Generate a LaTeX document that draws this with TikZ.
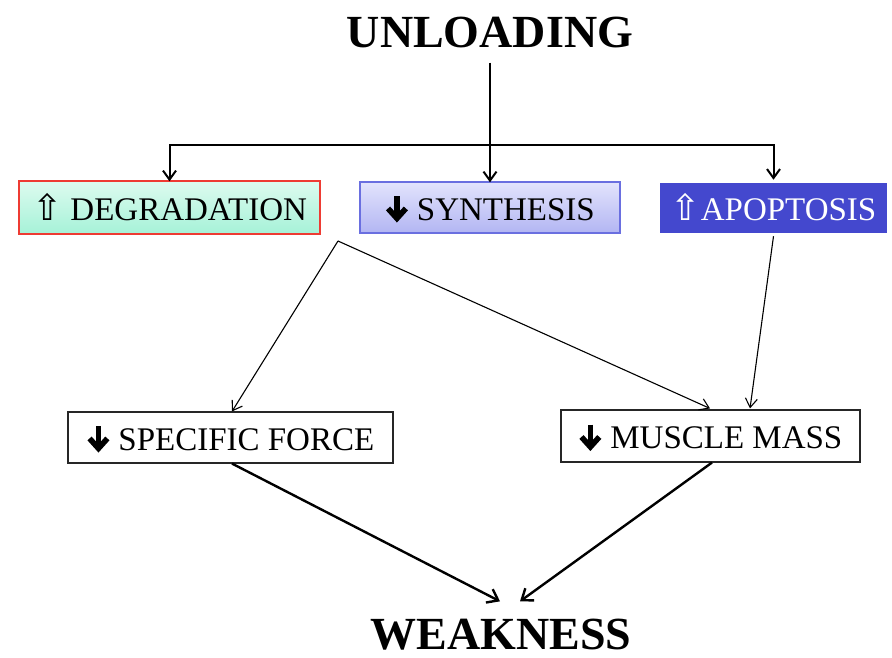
\documentclass[tikz,border=0pt]{standalone}
\usepackage{fontspec}
\setmainfont{Liberation Serif}
\newfontfamily\symfont{DejaVu Sans}
\usetikzlibrary{arrows.meta}
\pgfdeclarelayer{bg}
\pgfsetlayers{bg,main}
\definecolor{degtop}{HTML}{DDFBEF}
\definecolor{degbot}{HTML}{A6F2D8}
\definecolor{degline}{HTML}{EE3B33}
\definecolor{syntop}{HTML}{E2E3FC}
\definecolor{synbot}{HTML}{B3B6F3}
\definecolor{synline}{HTML}{6A6FE0}
\definecolor{apofill}{HTML}{4448CE}
\newcommand\uparr{{\symfont\fontsize{36}{36}\selectfont ⇧}}
\newcommand\dnarr{\tikz[baseline=0pt,x=1pt,y=1pt]{%
  \draw[color=black,fill=none,line width=0.17em,line cap=butt] (0,0.72em)--(0,0.1em);
  \draw[color=black,fill=none,line width=0.17em,line cap=butt,miter limit=6] (-0.27em,0.35em)--(0,0.05em)--(0.27em,0.35em);}}
\begin{document}
\begin{tikzpicture}[x=1pt,y=-1pt,
  title/.style={font=\bfseries\fontsize{46}{48}\selectfont, inner sep=0pt, anchor=base},
  lbl/.style={font=\fontsize{33}{35}\selectfont, inner sep=0pt, text height=25pt, text depth=0pt, align=center},
  degbox/.style={lbl, top color=degtop, bottom color=degbot},
  synbox/.style={lbl, top color=syntop, bottom color=synbot},
  apobox/.style={lbl, fill=apofill, draw=white, line width=3.5pt, text=white},
  plainbox/.style={lbl, draw=black!85, line width=1.1pt, fill=white},
  shadowfill/.style={fill=black!22},
  conn/.style={line width=2pt, -{Straight Barb[length=9pt,width=13pt]}},
  thin/.style={line width=1.1pt, -{Straight Barb[length=9pt,width=12pt]}},
  thick/.style={line width=2.4pt, -{Straight Barb[length=10pt,width=15pt]}}]
  \useasboundingbox[fill=white] (0,0) rectangle (892,658);

  \node[title] (unl) at (490,48) {UNLOADING};
  \node[title, text depth=0pt] (wk) at (501,649) {WEAKNESS};

  \node[degbox, minimum width=300pt, minimum height=52pt] (deg) at (169.5,207.5) {\uparr\ DEGRADATION};
  \node[synbox, minimum width=259pt, minimum height=50pt] (syn) at (490,207.5) {\dnarr\ SYNTHESIS};
  \node[apobox, minimum width=231pt, minimum height=53pt] (apo) at (773.5,208) {\uparr APOPTOSIS};

  \node[plainbox, minimum width=325pt, minimum height=51pt] (sf) at (230.5,437.5) {\dnarr\ SPECIFIC FORCE};
  \node[plainbox, minimum width=299pt, minimum height=52pt] (mm) at (710.5,436) {\dnarr\ MUSCLE MASS};

  \draw[draw=degline, line width=1.8pt] (deg.south west) rectangle (deg.north east);
  \draw[draw=synline, line width=1.8pt] (syn.south west) rectangle (syn.north east);

  \begin{pgfonlayer}{bg}
    \fill[shadowfill] ([shift={(1pt,-2.5pt)}]deg.south west) rectangle ([shift={(1pt,-2.5pt)}]deg.north east);
    \fill[shadowfill] ([shift={(1pt,-2.5pt)}]syn.south west) rectangle ([shift={(1pt,-2.5pt)}]syn.north east);
    \fill[shadowfill] ([shift={(1pt,-2.5pt)}]apo.south west) rectangle ([shift={(1pt,-2.5pt)}]apo.north east);
  \end{pgfonlayer}

  \coordinate (hub) at (490,145);
  \coordinate (src) at (338,241);

  \draw[line width=2pt, shorten <=14pt] (unl.south) -- (hub);
  \draw[conn] (hub) -| (deg.north);
  \draw[conn] (hub) -- (syn.north);
  \draw[conn] (hub) -| (apo.north);

  \draw[thin] (src) -- ([xshift=1.5pt]sf.north);
  \draw[thin] (src) -- ([xshift=-0.5pt,yshift=1pt]mm.north);
  \draw[thin] (apo.south) -- ([xshift=39.5pt,yshift=1pt]mm.north);

  \draw[thick] ([xshift=1.5pt]sf.south) -- ([xshift=-1pt,yshift=17pt]wk.north);
  \draw[thick] ([xshift=1.5pt]mm.south) -- ([xshift=19pt,yshift=17pt]wk.north);
\end{tikzpicture}
\end{document}
